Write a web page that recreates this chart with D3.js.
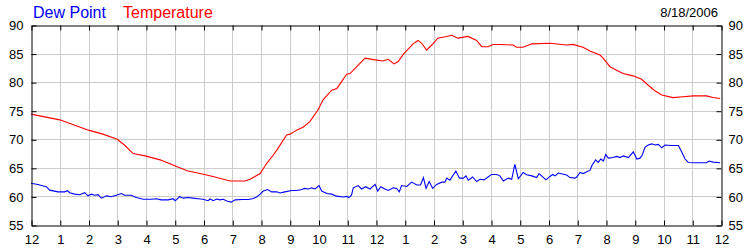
<!DOCTYPE html>
<html>
<head>
<meta charset="utf-8">
<script src="https://cdn.jsdelivr.net/npm/d3@7"></script>
<style>
  body { margin: 0; background: #fff; }
  svg { display: block; font-family: "Liberation Sans", Arial, sans-serif; }
</style>
</head>
<body>
<svg width="750" height="250"></svg>
<script>
// Hours since midnight and readings, 8/18/2006
const tempHours = [0, 1.0, 1.5, 2.0, 2.5, 3.0, 3.25, 3.55, 3.97, 4.49, 4.94, 5.43, 5.88, 6.33, 6.92, 7.44, 7.62, 7.97,
  8.2, 8.42, 8.55, 8.89, 9.01, 9.24, 9.46, 9.7, 9.99, 10.16, 10.46, 10.64, 10.98, 11.1, 11.33, 11.62, 11.97, 12.24,
  12.42, 12.63, 12.77, 12.97, 13.29, 13.46, 13.59, 13.76, 13.94, 14.15, 14.46, 14.63, 14.85, 15.2, 15.5, 15.68, 15.9,
  16.07, 16.31, 16.77, 16.89, 17.11, 17.42, 18.05, 18.63, 18.85, 19.2, 19.44, 19.79, 19.9, 20.14, 20.37, 20.59, 20.94,
  21.24, 21.46, 21.7, 21.94, 22.33, 22.68, 23.03, 23.5, 23.72, 23.97];
const tempValues = [74.4, 73.4, 72.5, 71.6, 70.9, 70.0, 69.0, 67.5, 67.1, 66.4, 65.5, 64.5, 64.0, 63.5, 62.7, 62.7, 63.0, 64.0,
  65.8, 67.2, 68.1, 70.75, 70.9, 71.6, 72.1, 73.1, 75.2, 76.9, 78.6, 78.9, 81.4, 81.5, 82.7, 84.2, 83.9, 83.7,
  84.0, 83.2, 83.6, 85.0, 86.7, 87.3, 86.8, 85.6, 86.5, 87.7, 88.0, 88.2, 87.7, 88.0, 87.3, 86.2, 86.2,
  86.6, 86.6, 86.5, 86.1, 86.1, 86.7, 86.8, 86.5, 86.6, 86.1, 85.45, 84.75, 84.2, 82.7, 82.1, 81.5, 81.1,
  80.5, 79.5, 78.5, 77.75, 77.3, 77.45, 77.6, 77.6, 77.3, 77.15];

const dewHours = [0, 0.24, 0.53, 0.65, 0.94, 1.17, 1.26, 1.35, 1.52, 1.69, 1.87, 1.98, 2.1, 2.22, 2.33, 2.45, 2.62, 2.79,
  2.97, 3.14, 3.26, 3.49, 3.66, 3.9, 4.18, 4.36, 4.53, 4.77, 4.94, 5.02, 5.17, 5.29, 5.46, 5.63, 5.81, 5.98, 6.16,
  6.23, 6.34, 6.46, 6.57, 6.69, 6.81, 6.96, 7.1, 7.33, 7.56, 7.73, 7.85, 7.97, 8.08, 8.23, 8.37, 8.55, 8.66, 8.83,
  9.07, 9.24, 9.42, 9.51, 9.65, 9.76, 9.88, 10.02, 10.11, 10.29, 10.46, 10.63, 10.86, 10.98, 11.06, 11.15, 11.21,
  11.38, 11.5, 11.64, 11.79, 11.97, 12.06, 12.17, 12.31, 12.43, 12.6, 12.72, 12.81, 12.89, 13.07, 13.24, 13.42,
  13.55, 13.65, 13.74, 13.85, 13.97, 14.11, 14.29, 14.4, 14.46, 14.57, 14.78, 14.9, 15.04, 15.13, 15.21, 15.36,
  15.5, 15.62, 15.76, 15.91, 16.02, 16.2, 16.31, 16.43, 16.6, 16.72, 16.83, 16.95, 17.12, 17.24, 17.42, 17.59,
  17.67, 17.76, 17.91, 18.05, 18.15, 18.23, 18.34, 18.63, 18.75, 18.92, 18.98, 19.1, 19.21, 19.33, 19.44, 19.52,
  19.64, 19.73, 19.82, 19.91, 19.99, 20.08, 20.25, 20.37, 20.49, 20.6, 20.78, 20.95, 21.07, 21.18, 21.26, 21.36,
  21.47, 21.59, 21.7, 21.82, 21.94, 22.05, 22.28, 22.52, 22.63, 22.75, 22.86, 23.1, 23.5, 23.58, 23.73, 23.97];
const dewValues = [62.3, 62.1, 61.7, 61.1, 60.8, 60.8, 61.0, 60.65, 60.4, 60.3, 60.65, 60.1, 60.4, 60.2, 60.3, 59.7, 60.1, 59.95,
  60.2, 60.5, 60.2, 60.2, 59.8, 59.5, 59.5, 59.6, 59.4, 59.4, 59.6, 59.25, 59.95, 59.7, 59.8, 59.7, 59.6, 59.5, 59.25,
  59.55, 59.25, 59.55, 59.4, 59.5, 59.2, 59.0, 59.4, 59.45, 59.45, 59.65, 59.9, 60.4, 60.95, 61.2, 60.8, 60.8, 60.6, 60.8,
  61.05, 61.05, 61.2, 61.4, 61.3, 61.5, 61.3, 61.9, 60.95, 60.5, 60.4, 60.05, 59.9, 60.0, 59.8, 60.25, 61.5,
  61.9, 61.3, 61.7, 61.3, 62.1, 60.95, 61.7, 61.3, 61.05, 61.5, 61.4, 60.8, 61.9, 61.75, 62.5, 62.0,
  62.0, 63.3, 61.4, 62.6, 61.4, 62.1, 62.5, 62.5, 63.2, 62.85, 64.45, 63.2, 63.2, 63.6, 62.85, 63.4,
  62.6, 63.0, 62.9, 63.45, 63.85, 63.85, 63.6, 62.7, 63.2, 63.0, 65.6, 63.1, 64.2, 63.8, 63.6, 63.3,
  64.0, 63.6, 62.9, 63.5, 63.85, 63.6, 64.1, 63.75, 63.3, 63.2, 63.4, 64.2, 64.0, 64.3, 64.55, 65.5,
  66.4, 65.95, 66.55, 66.2, 67.35, 66.7, 66.8, 67.0, 66.8, 67.1, 66.8, 67.8, 66.55, 66.7, 67.2, 68.65,
  69.0, 69.2, 69.0, 69.1, 68.5, 69.0, 68.9, 68.9, 67.8, 66.55, 65.95, 65.9, 65.9, 66.2, 66.0, 65.9];

const hourTicks = d3.range(0, 25);
const yTicks = [55, 60, 65, 70, 75, 80, 85, 90];

const svg = d3.select("svg");
const plotLeft = 31, plotRight = 721, plotTop = 25, plotBottom = 225;

const x = d3.scaleLinear().domain([0, 24]).range([plotLeft, plotRight]);
const y = d3.scaleLinear().domain([55, 90]).range([plotBottom, plotTop]);
const px = v => Math.round(v) + 0.5;

// grid
const grid = svg.append("g").attr("stroke", "#cccccc").attr("stroke-width", 1);
grid.selectAll("line.v")
  .data(hourTicks.slice(1, -1))
  .enter().append("line").attr("class", "v")
  .attr("x1", d => px(x(d))).attr("x2", d => px(x(d)))
  .attr("y1", plotTop).attr("y2", plotBottom);
grid.selectAll("line.h")
  .data(yTicks.slice(1, -1))
  .enter().append("line").attr("class", "h")
  .attr("x1", plotLeft).attr("x2", plotRight)
  .attr("y1", d => px(y(d))).attr("y2", d => px(y(d)));

// series
const line = d3.line().x(d => x(d[0])).y(d => y(d[1]));
svg.append("path")
  .datum(d3.zip(tempHours, tempValues))
  .attr("fill", "none").attr("stroke", "#ff0000").attr("stroke-width", 1.1)
  .attr("d", line);
svg.append("path")
  .datum(d3.zip(dewHours, dewValues))
  .attr("fill", "none").attr("stroke", "#0000ff").attr("stroke-width", 1.1)
  .attr("d", line);

// axes (pixel-snapped copies of the scales)
const hourFmt = h => (h % 12 === 0 ? 12 : h % 12);
const xPx = d3.scaleLinear().domain([0, 24]).range([px(plotLeft), px(plotRight)]);
const yPx = d3.scaleLinear().domain([55, 90]).range([px(plotBottom), px(plotTop)]);

function styleAxis(g) {
  g.attr("font-family", null).attr("font-size", null);
  g.selectAll("text").attr("fill", "#000").style("font-size", "13px");
  g.selectAll("path, line").attr("stroke", "#000");
}

const xb = svg.append("g").attr("transform", `translate(0,${px(plotBottom)})`)
  .call(d3.axisBottom(xPx).tickValues(hourTicks).tickFormat(hourFmt).tickSize(-5).tickSizeOuter(0).tickPadding(9));
styleAxis(xb);

const xt = svg.append("g").attr("transform", `translate(0,${px(plotTop)})`)
  .call(d3.axisTop(xPx).tickValues(hourTicks).tickFormat("").tickSize(-5).tickSizeOuter(0));
styleAxis(xt);

const yl = svg.append("g").attr("transform", `translate(${px(plotLeft)},0)`)
  .call(d3.axisLeft(yPx).tickValues(yTicks).tickSize(-5).tickSizeOuter(0).tickPadding(8));
styleAxis(yl);

const yr = svg.append("g").attr("transform", `translate(${px(plotRight)},0)`)
  .call(d3.axisRight(yPx).tickValues(yTicks).tickSize(-5).tickSizeOuter(0).tickPadding(7));
styleAxis(yr);

// legend and date
svg.append("text").attr("x", 33).attr("y", 18).attr("fill", "#0000ff")
  .style("font-size", "16px").text("Dew Point");
svg.append("text").attr("x", 123).attr("y", 18).attr("fill", "#ff0000")
  .style("font-size", "16px").text("Temperature");
svg.append("text").attr("x", 718).attr("y", 17).attr("text-anchor", "end").attr("fill", "#000")
  .style("font-size", "13px").text("8/18/2006");
</script>
</body>
</html>
